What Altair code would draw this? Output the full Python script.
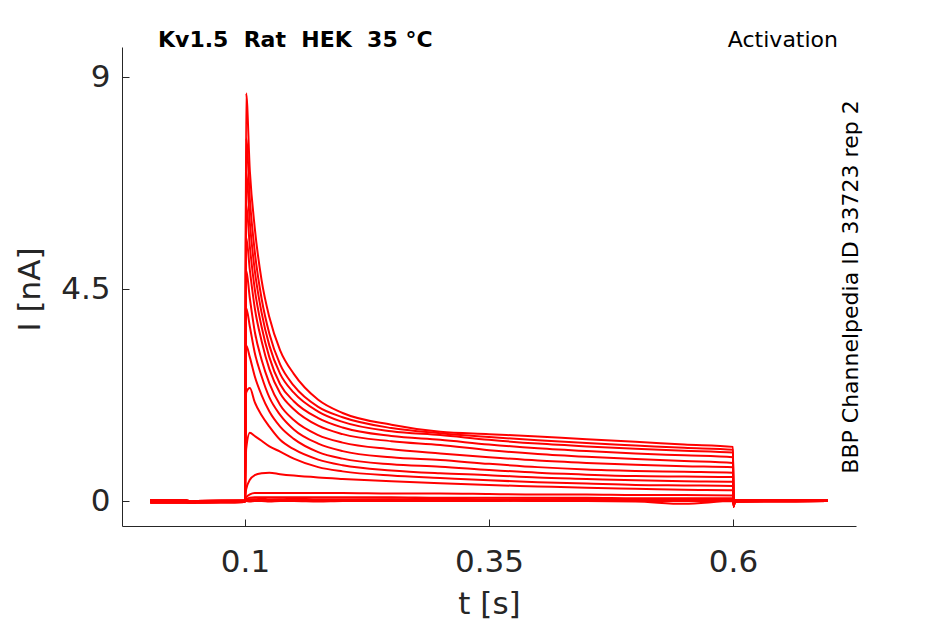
import altair as alt
import pandas as pd

# ---- data ----
T_PRE = [0.003, 0.04, 0.045, 0.05, 0.0995]
T_STEP = [0.1, 0.1012, 0.105, 0.11, 0.117, 0.125, 0.136, 0.15, 0.175, 0.2,
          0.25, 0.3, 0.35, 0.4, 0.45, 0.5, 0.55, 0.6]
T_POST = [0.6005, 0.602, 0.697]

PRE_A = [0.0, -0.01, -0.03, -0.02, 0.0]
PRE_B = [0.02, 0.01, -0.01, 0.0, 0.01]
PRE_C = [-0.03, -0.03, -0.04, -0.03, -0.02]
POST_A = [-0.12, -0.01, 0.0]
POST_B = [-0.06, 0.01, 0.01]

TR_M = [0.0, 8.66, 7.0, 5.8, 4.69, 3.9, 3.2, 2.7, 2.15, 1.87, 1.62, 1.47, 1.42, 1.37, 1.31, 1.26, 1.2, 1.15]
TR_L = [0.0, 7.7, 6.4, 5.3, 4.3, 3.55, 2.9, 2.45, 2.0, 1.78, 1.55, 1.44, 1.36, 1.29, 1.23, 1.18, 1.13, 1.09]
TR_K = [0.0, 7.0, 5.9, 4.9, 4.0, 3.3, 2.7, 2.3, 1.9, 1.68, 1.48, 1.40, 1.3, 1.22, 1.16, 1.11, 1.07, 1.03]
TR_J = [0.0, 6.3, 5.4, 4.5, 3.7, 3.05, 2.48, 2.12, 1.76, 1.56, 1.38, 1.30, 1.2, 1.12, 1.06, 1.01, 0.97, 0.93]
TR_I = [0.0, 5.6, 4.9, 4.1, 3.4, 2.8, 2.29, 1.95, 1.6, 1.42, 1.27, 1.19, 1.08, 1.0, 0.94, 0.89, 0.85, 0.81]
TR_H = [0.0, 4.9, 4.3, 3.6, 3.0, 2.5, 2.04, 1.72, 1.4, 1.24, 1.1, 1.01, 0.93, 0.86, 0.81, 0.77, 0.74, 0.72]
TR_G = [0.0, 4.1, 3.7, 3.15, 2.65, 2.2, 1.83, 1.52, 1.22, 1.06, 0.93, 0.87, 0.79, 0.72, 0.67, 0.64, 0.62, 0.60]
TR_F = [0.0, 3.3, 3.05, 2.65, 2.25, 1.9, 1.58, 1.32, 1.04, 0.9, 0.78, 0.73, 0.66, 0.6, 0.56, 0.53, 0.52, 0.51]
TR_D = [0.0, 2.3, 2.4, 2.1, 1.82, 1.58, 1.30, 1.1, 0.88, 0.76, 0.65, 0.59, 0.55, 0.5, 0.47, 0.44, 0.42, 0.41]
TR_C = [0.0, 1.1, 1.45, 1.38, 1.28, 1.16, 1.05, 0.9, 0.72, 0.63, 0.54, 0.49, 0.44, 0.4, 0.37, 0.34, 0.33, 0.32]
TR_B = [0.0, 0.25, 0.45, 0.55, 0.59, 0.6, 0.57, 0.54, 0.5, 0.47, 0.42, 0.38, 0.34, 0.31, 0.28, 0.26, 0.24, 0.23]
TR_A = [0.0, 0.08, 0.14, 0.17, 0.17, 0.17, 0.17, 0.17, 0.17, 0.17, 0.16, 0.16, 0.15, 0.14, 0.14, 0.13, 0.13, 0.12]
TR_E = [0.0, 0.04, 0.07, 0.08, 0.08, 0.08, 0.08, 0.08, 0.08, 0.08, 0.08, 0.07, 0.07, 0.07, 0.07, 0.06, 0.06, 0.06]
TR_Z1 = [0.0, 0.03, 0.04, 0.04, 0.05, 0.04, 0.04, 0.05, 0.04, 0.04, 0.04, 0.05, 0.04, 0.04, 0.05, 0.04, 0.04, 0.04]
TR_Z2 = [0.0, 0.02, 0.02, 0.03, 0.02, 0.02, 0.03, 0.02, 0.02, 0.02, 0.03, 0.02, 0.02, 0.03, 0.02, 0.02, 0.02, 0.02]
TR_Z3 = [0.0, 0.01, 0.01, 0.0, 0.01, 0.0, 0.01, 0.0, 0.01, 0.0, 0.01, 0.0, 0.01, 0.0, 0.0, -0.01, -0.06, 0.0]
TR_Z4 = [0.0, 0.0, -0.01, 0.0, 0.0, -0.01, 0.0, 0.0, -0.01, 0.0, 0.0, 0.0, 0.0, 0.01, 0.0, 0.0, 0.0, 0.0]

TRACES = [
    ("M", PRE_A, TR_M, POST_A), ("L", PRE_B, TR_L, POST_A), ("K", PRE_C, TR_K, POST_B),
    ("J", PRE_A, TR_J, POST_A), ("I", PRE_B, TR_I, POST_B), ("H", PRE_C, TR_H, POST_A),
    ("G", PRE_A, TR_G, POST_B), ("F", PRE_B, TR_F, POST_A), ("D", PRE_C, TR_D, POST_B),
    ("C", PRE_A, TR_C, POST_A), ("B", PRE_B, TR_B, POST_B), ("A", PRE_C, TR_A, POST_B),
    ("E", PRE_A, TR_E, POST_B), ("Z1", PRE_B, TR_Z1, POST_B), ("Z2", PRE_C, TR_Z2, POST_B),
    ("Z3", PRE_A, TR_Z3, POST_B), ("Z4", PRE_B, TR_Z4, POST_B),
]

X_TICKS = [0.1, 0.35, 0.6]
Y_TICKS = [0, 4.5, 9]
X_DOMAIN = [-0.026, 0.726]
Y_DOMAIN = [-0.53, 9.64]

rows = []
for name, pre, step, post in TRACES:
    for t, v in zip(T_PRE + T_STEP + T_POST, pre + step + post):
        rows.append({"trace": name, "t": t, "I": v})
df = pd.DataFrame(rows)

W, H = 734, 479
FONT = "DejaVu Sans"
INK = "#262626"
NB = "\u00a0"

xs = alt.Scale(domain=X_DOMAIN, nice=False, zero=False)
ys = alt.Scale(domain=Y_DOMAIN, nice=False, zero=False)

lines = alt.Chart(df).mark_line(
    color="#ff0000", strokeWidth=2, clip=True, interpolate="monotone"
).encode(
    x=alt.X("t:Q", scale=xs, axis=alt.Axis(
        values=X_TICKS, labelExpr="'' + datum.value", title="t [s]",
        tickSize=0, labelPadding=21, titleY=63, titleBaseline="top",
        labelFontSize=31, titleFontSize=31, labelFont=FONT, titleFont=FONT,
        titleFontWeight="normal", labelColor=INK, titleColor=INK,
        domainColor=INK, grid=False)),
    y=alt.Y("I:Q", scale=ys, axis=alt.Axis(
        values=Y_TICKS, labelExpr="'' + datum.value", title="I [nA]",
        tickSize=0, labelPadding=12, titleX=-76, titleY=242,
        labelFontSize=31, titleFontSize=31, labelFont=FONT, titleFont=FONT,
        titleFontWeight="normal", labelColor=INK, titleColor=INK,
        domainColor=INK, grid=False)),
    detail="trace:N",
)

tick_layer = alt.Chart(df).mark_line(opacity=0).encode(
    x=alt.X("t:Q", scale=xs, axis=alt.Axis(
        orient="top", offset=-H, values=X_TICKS, labels=False, domain=False,
        title=None, tickSize=7, tickColor=INK, grid=False)),
    y=alt.Y("I:Q", scale=ys, axis=alt.Axis(
        orient="right", offset=-W, values=Y_TICKS, labels=False, domain=False,
        title=None, tickSize=7, tickColor=INK, grid=False)),
    detail="trace:N",
)

txt = pd.DataFrame({"s": ["Kv1.5" + NB + " Rat" + NB + " HEK" + NB + " 35 °C"]})
title_left = alt.Chart(txt).mark_text(
    font=FONT, fontSize=22, fontWeight="bold", align="left", baseline="alphabetic", color="black"
).encode(text="s:N", x=alt.value(36), y=alt.value(0))

txt2 = pd.DataFrame({"s": ["Activation"]})
title_right = alt.Chart(txt2).mark_text(
    font=FONT, fontSize=22, align="right", baseline="alphabetic", color="black"
).encode(text="s:N", x=alt.value(716), y=alt.value(0))

txt3 = pd.DataFrame({"s": ["BBP Channelpedia ID 33723 rep 2"]})
side = alt.Chart(txt3).mark_text(
    font=FONT, fontSize=22, align="center", baseline="alphabetic", angle=270, color="black"
).encode(text="s:N", x=alt.value(736), y=alt.value(240))

chart = alt.layer(lines, tick_layer, title_left, title_right, side).resolve_axis(
    x="independent", y="independent"
).properties(
    width=W, height=H,
    padding={"left": 114, "top": 39, "right": 60, "bottom": 95},
    autosize=alt.AutoSizeParams(type="none"),
    background="white",
).configure_view(stroke=None)

chart.save("out.html", embed_options={"renderer": "svg", "actions": False})
